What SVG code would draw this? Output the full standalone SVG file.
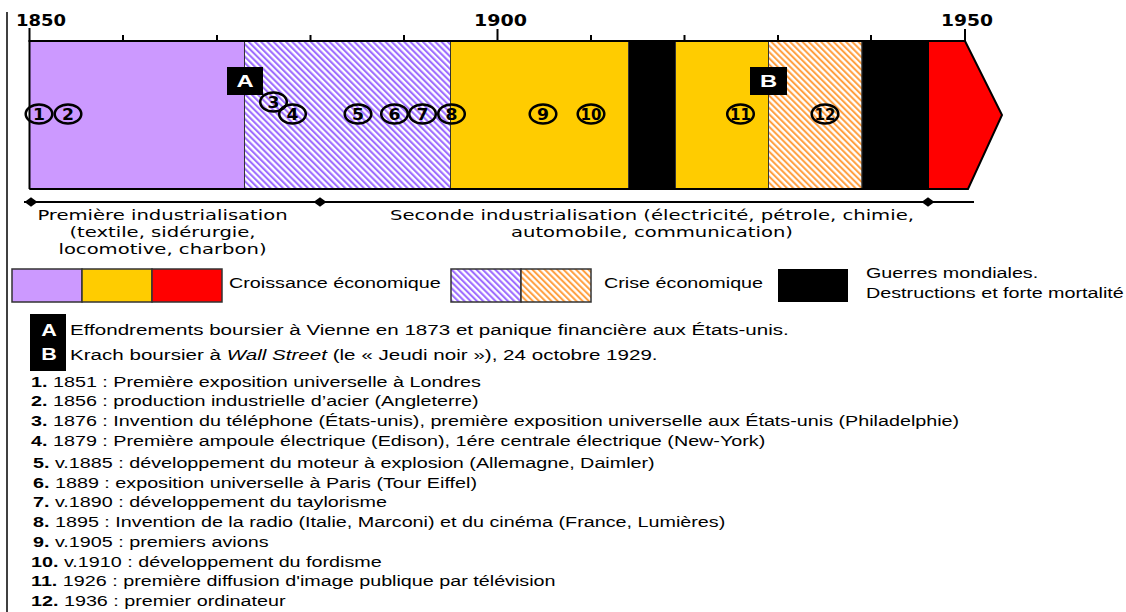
<svg xmlns="http://www.w3.org/2000/svg" width="1126" height="612" viewBox="0 0 1126 612">
<defs>
<pattern id="hatchP" patternUnits="userSpaceOnUse" width="4.4" height="4.4" patternTransform="rotate(-45)">
<rect width="4.4" height="4.4" fill="#ffffff"/>
<line x1="1.1" y1="0" x2="1.1" y2="4.4" stroke="#9966ff" stroke-width="2"/>
</pattern>
<pattern id="hatchO" patternUnits="userSpaceOnUse" width="4.4" height="4.4" patternTransform="rotate(-45)">
<rect width="4.4" height="4.4" fill="#ffffff"/>
<line x1="1.1" y1="0" x2="1.1" y2="4.4" stroke="#ff9933" stroke-width="1.9"/>
</pattern>
</defs>
<style>
.seg{stroke:#333333;stroke-width:1}
.tick{stroke:#000;stroke-width:2}
.ring{fill:none;stroke:#000;stroke-width:2.5}
.num{font-family:"DejaVu Sans",Verdana,sans-serif;font-weight:bold;font-size:15px;text-anchor:middle;fill:#000}
.yr{font-family:"DejaVu Sans",Verdana,sans-serif;font-weight:bold;font-size:16px;fill:#000}
.tl{font-family:"DejaVu Sans",Verdana,sans-serif;font-size:14px;text-anchor:middle;fill:#000}
.lg{font-family:"Liberation Sans",Arial,sans-serif;font-size:14px;fill:#000}
.ab{font-family:"Liberation Sans",Arial,sans-serif;font-size:14.5px;fill:#000}
.b{font-weight:bold}
.tagt{font-family:"Liberation Sans",Arial,sans-serif;font-weight:bold;font-size:17px;fill:#fff;text-anchor:middle}
.lbox{stroke:#333333;stroke-width:1.5}
</style>

<line x1="7" y1="12" x2="7" y2="612" stroke="#000" stroke-width="1.5"/>

<g id="bar">
<rect class="seg" x="29.5" y="41" width="215" height="148" fill="#cc99ff"/>
<rect class="seg" x="244.5" y="41" width="206" height="148" fill="url(#hatchP)"/>
<rect class="seg" x="450.5" y="41" width="178" height="148" fill="#ffcc00"/>
<rect class="seg" x="628.5" y="41" width="47" height="148" fill="#000"/>
<rect class="seg" x="675.5" y="41" width="93" height="148" fill="#ffcc00"/>
<rect class="seg" x="768.5" y="41" width="93.5" height="148" fill="url(#hatchO)"/>
<rect class="seg" x="862" y="41" width="66" height="148" fill="#000"/>
<polygon points="928,41 965,41 1002,115 968,189 928,189" fill="#ff0000" stroke="#000" stroke-width="2" stroke-linejoin="miter"/>
<line x1="29.5" y1="189" x2="968" y2="189" stroke="#000" stroke-width="2"/>
<line x1="29.5" y1="41" x2="29.5" y2="189" stroke="#000" stroke-width="2"/>
</g>

<g id="axis">
<line x1="28.5" y1="41" x2="966" y2="41" stroke="#000" stroke-width="2"/>
<line class="tick" x1="29.5" y1="28" x2="29.5" y2="41"/>
<line class="tick" x1="123" y1="35" x2="123" y2="41"/>
<line class="tick" x1="217" y1="35" x2="217" y2="41"/>
<line class="tick" x1="310.5" y1="35" x2="310.5" y2="41"/>
<line class="tick" x1="404" y1="35" x2="404" y2="41"/>
<line class="tick" x1="497.5" y1="29" x2="497.5" y2="41"/>
<line class="tick" x1="591" y1="35" x2="591" y2="41"/>
<line class="tick" x1="684.5" y1="35" x2="684.5" y2="41"/>
<line class="tick" x1="778" y1="35" x2="778" y2="41"/>
<line class="tick" x1="871" y1="35" x2="871" y2="41"/>
<line class="tick" x1="965" y1="29" x2="965" y2="41"/>
<text class="yr" x="16" y="26" textLength="50" lengthAdjust="spacingAndGlyphs">1850</text>
<text class="yr" x="474" y="26" textLength="53" lengthAdjust="spacingAndGlyphs">1900</text>
<text class="yr" x="941" y="26" textLength="52" lengthAdjust="spacingAndGlyphs">1950</text>
</g>

<g id="tag-A">
<rect x="227" y="67" width="36" height="28" fill="#000"/>
<text class="tagt" transform="translate(245,87) scale(1.4,1)">A</text>
</g>
<g id="tag-B">
<rect x="750" y="67" width="37" height="28" fill="#000"/>
<text class="tagt" transform="translate(768.5,87) scale(1.4,1)">B</text>
</g>

<g id="ev1"><ellipse class="ring" cx="39" cy="114" rx="13.3" ry="9.6"/><text class="num" transform="translate(39,119.5) scale(1.15,1)">1</text></g>
<g id="ev2"><ellipse class="ring" cx="68" cy="114" rx="13.3" ry="9.6"/><text class="num" transform="translate(68,119.5) scale(1.15,1)">2</text></g>
<g id="ev3"><ellipse class="ring" cx="273.5" cy="102" rx="13.3" ry="9.6"/><text class="num" transform="translate(273.5,107.5) scale(1.15,1)">3</text></g>
<g id="ev4"><ellipse class="ring" cx="292.5" cy="114" rx="13.3" ry="9.6"/><text class="num" transform="translate(292.5,119.5) scale(1.15,1)">4</text></g>
<g id="ev5"><ellipse class="ring" cx="358" cy="114" rx="13.3" ry="9.6"/><text class="num" transform="translate(358,119.5) scale(1.15,1)">5</text></g>
<g id="ev6"><ellipse class="ring" cx="394.5" cy="114" rx="13.3" ry="9.6"/><text class="num" transform="translate(394.5,119.5) scale(1.15,1)">6</text></g>
<g id="ev7"><ellipse class="ring" cx="422.5" cy="114" rx="13.3" ry="9.6"/><text class="num" transform="translate(422.5,119.5) scale(1.15,1)">7</text></g>
<g id="ev8"><ellipse class="ring" cx="451.5" cy="114" rx="13.3" ry="9.6"/><text class="num" transform="translate(451.5,119.5) scale(1.15,1)">8</text></g>
<g id="ev9"><ellipse class="ring" cx="543" cy="114" rx="13.3" ry="9.6"/><text class="num" transform="translate(543,119.5) scale(1.15,1)">9</text></g>
<g id="ev10"><ellipse class="ring" cx="591" cy="114" rx="13.3" ry="9.6"/><text class="num" transform="translate(591,119.5) scale(1.0,1)">10</text></g>
<g id="ev11"><ellipse class="ring" cx="740.5" cy="114" rx="13.3" ry="9.6"/><text class="num" transform="translate(740.5,119.5) scale(1.0,1)">11</text></g>
<g id="ev12"><ellipse class="ring" cx="825" cy="114" rx="13.3" ry="9.6"/><text class="num" transform="translate(825,119.5) scale(1.0,1)">12</text></g>

<g id="connectors">
<line x1="24" y1="202" x2="974" y2="202" stroke="#000" stroke-width="2"/>
<polygon points="24.5,202 31,197.3 37.5,202 31,206.7" fill="#000"/>
<polygon points="313.5,202 320,197.3 326.5,202 320,206.7" fill="#000"/>
<polygon points="921.5,202 928,197.3 934.5,202 928,206.7" fill="#000"/>
</g>

<g id="period-1">
<text class="tl" transform="translate(162.5,220) scale(1.4,1)">Première industrialisation</text>
<text class="tl" transform="translate(162.5,237) scale(1.4,1)">(textile, sidérurgie,</text>
<text class="tl" transform="translate(162.5,254) scale(1.4,1)">locomotive, charbon)</text>
</g>
<g id="period-2">
<text class="tl" transform="translate(652,220) scale(1.4,1)">Seconde industrialisation (électricité, pétrole, chimie,</text>
<text class="tl" transform="translate(652,237) scale(1.4,1)">automobile, communication)</text>
</g>

<g id="legend-growth">
<rect class="lbox" x="12" y="269" width="70" height="33" fill="#cc99ff"/>
<rect class="lbox" x="82" y="269" width="70" height="33" fill="#ffcc00"/>
<rect class="lbox" x="152" y="269" width="70" height="33" fill="#ff0000"/>
<text class="lg" transform="translate(229,288) scale(1.41,1)">Croissance économique</text>
</g>
<g id="legend-crisis">
<rect class="lbox" x="451" y="269" width="70" height="33" fill="url(#hatchP)"/>
<rect class="lbox" x="521" y="269" width="70" height="33" fill="url(#hatchO)"/>
<text class="lg" transform="translate(604,288) scale(1.41,1)">Crise économique</text>
</g>
<g id="legend-war">
<rect x="778" y="269" width="70" height="33" fill="#000"/>
<text class="lg" transform="translate(866,278) scale(1.41,1)">Guerres mondiales.</text>
<text class="lg" transform="translate(866,298) scale(1.41,1)">Destructions et forte mortalité</text>
</g>

<g id="notes-AB">
<rect x="30" y="314" width="36" height="57" fill="#000"/>
<text class="tagt" transform="translate(49,335.5) scale(1.35,1)" style="font-size:16px">A</text>
<text class="tagt" transform="translate(49,359.5) scale(1.35,1)" style="font-size:16px">B</text>
<text class="ab" transform="translate(70,335) scale(1.42,1)">Effondrements boursier à Vienne en 1873 et panique financière aux États-unis.</text>
<text class="ab" transform="translate(70,359.5) scale(1.42,1)">Krach boursier à <tspan font-style="italic">Wall Street</tspan> (le « Jeudi noir »), 24 octobre 1929.</text>
</g>

<g id="notes-list">
<text class="lg" transform="translate(31,386.5) scale(1.41,1)"><tspan class="b">1.</tspan> 1851 : Première exposition universelle à Londres</text>
<text class="lg" transform="translate(31,406.2) scale(1.41,1)"><tspan class="b">2.</tspan> 1856 : production industrielle d’acier (Angleterre)</text>
<text class="lg" transform="translate(31,425.9) scale(1.41,1)"><tspan class="b">3.</tspan> 1876 : Invention du téléphone (États-unis), première exposition universelle aux États-unis (Philadelphie)</text>
<text class="lg" transform="translate(31,445.6) scale(1.41,1)"><tspan class="b">4.</tspan> 1879 : Première ampoule électrique (Edison), 1ére centrale électrique (New-York)</text>
<text class="lg" transform="translate(33,468) scale(1.41,1)"><tspan class="b">5.</tspan> v.1885 : développement du moteur à explosion (Allemagne, Daimler)</text>
<text class="lg" transform="translate(33,487.7) scale(1.41,1)"><tspan class="b">6.</tspan> 1889 : exposition universelle à Paris (Tour Eiffel)</text>
<text class="lg" transform="translate(33,507.4) scale(1.41,1)"><tspan class="b">7.</tspan> v.1890 : développement du taylorisme</text>
<text class="lg" transform="translate(33,527.1) scale(1.41,1)"><tspan class="b">8.</tspan> 1895 : Invention de la radio (Italie, Marconi) et du cinéma (France, Lumières)</text>
<text class="lg" transform="translate(33,546.8) scale(1.41,1)"><tspan class="b">9.</tspan> v.1905 : premiers avions</text>
<text class="lg" transform="translate(31,566.5) scale(1.41,1)"><tspan class="b">10.</tspan> v.1910 : développement du fordisme</text>
<text class="lg" transform="translate(31,586.2) scale(1.41,1)"><tspan class="b">11.</tspan> 1926 : première diffusion d'image publique par télévision</text>
<text class="lg" transform="translate(31,605.9) scale(1.41,1)"><tspan class="b">12.</tspan> 1936 : premier ordinateur</text>
</g>
</svg>
